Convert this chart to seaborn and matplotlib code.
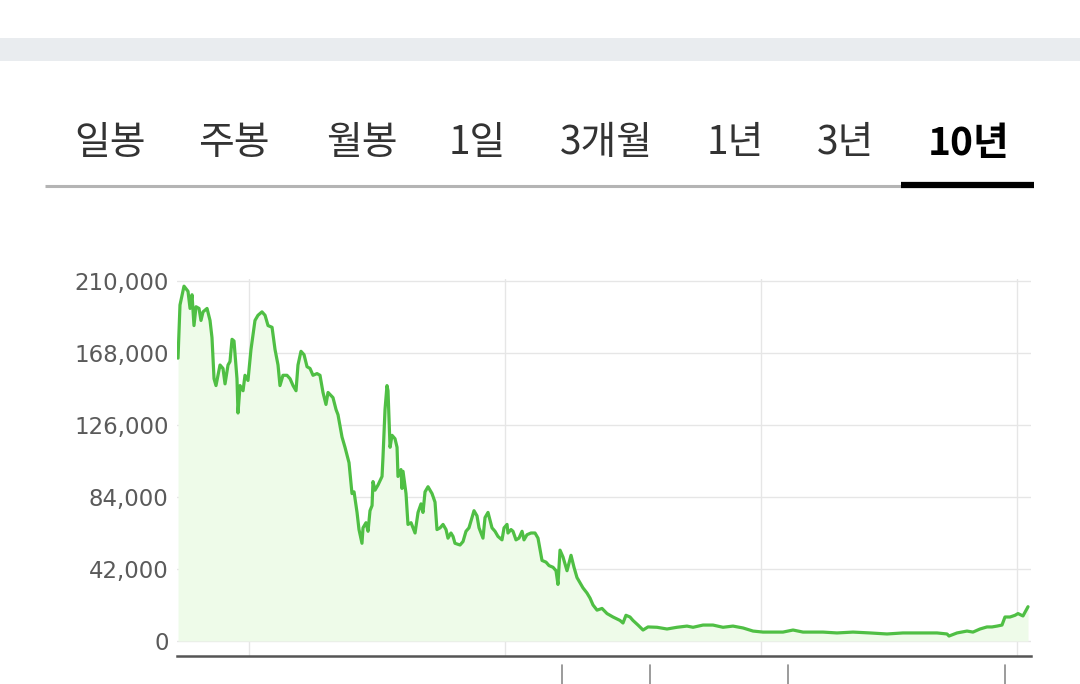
import matplotlib as mpl

mpl.use('Agg')
import matplotlib.pyplot as plt
from matplotlib.lines import Line2D
from matplotlib.patches import Rectangle
import seaborn as sns
import pandas as pd

sns.set_style("whitegrid")
plt.rcParams['font.family'] = ['Noto Sans CJK KR', 'DejaVu Sans']

# period tabs above the chart
tab_labels = ['일봉', '주봉', '월봉', '1일', '3개월', '1년', '3년', '10년']
active_tab = '10년'

# price history (x in decimal years, price in KRW)
years = [
    2015.168, 2015.191, 2015.238, 2015.285, 2015.309, 2015.332, 2015.355, 2015.379, 2015.414, 2015.437,
    2015.461, 2015.508, 2015.543, 2015.566, 2015.590, 2015.613, 2015.660, 2015.695, 2015.719, 2015.754,
    2015.777, 2015.801, 2015.824, 2015.859, 2015.871, 2015.895, 2015.930, 2015.953, 2015.988, 2016.023,
    2016.070, 2016.105, 2016.152, 2016.188, 2016.223, 2016.270, 2016.305, 2016.340, 2016.363, 2016.398,
    2016.445, 2016.481, 2016.516, 2016.551, 2016.574, 2016.609, 2016.645, 2016.680, 2016.715, 2016.750,
    2016.797, 2016.832, 2016.867, 2016.902, 2016.926, 2016.984, 2017.020, 2017.043, 2017.090, 2017.125,
    2017.172, 2017.207, 2017.231, 2017.266, 2017.289, 2017.324, 2017.336, 2017.371, 2017.395, 2017.418,
    2017.442, 2017.453, 2017.477, 2017.512, 2017.559, 2017.570, 2017.594, 2017.617, 2017.629, 2017.653,
    2017.676, 2017.711, 2017.735, 2017.746, 2017.781, 2017.793, 2017.805, 2017.840, 2017.863, 2017.899,
    2017.946, 2017.981, 2018.016, 2018.039, 2018.063, 2018.098, 2018.145, 2018.180, 2018.203, 2018.239,
    2018.274, 2018.309, 2018.332, 2018.367, 2018.391, 2018.414, 2018.473, 2018.508, 2018.543, 2018.578,
    2018.614, 2018.637, 2018.672, 2018.696, 2018.742, 2018.766, 2018.801, 2018.848, 2018.883, 2018.918,
    2018.965, 2018.989, 2019.024, 2019.035, 2019.071, 2019.094, 2019.129, 2019.164, 2019.200, 2019.223,
    2019.258, 2019.305, 2019.352, 2019.387, 2019.434, 2019.481, 2019.516, 2019.563, 2019.598, 2019.621,
    2019.645, 2019.680, 2019.727, 2019.774, 2019.809, 2019.844, 2019.879, 2019.914, 2019.961, 2019.997,
    2020.032, 2020.079, 2020.137, 2020.196, 2020.266, 2020.348, 2020.383, 2020.418, 2020.465, 2020.500,
    2020.559, 2020.618, 2020.676, 2020.782, 2020.899, 2021.016, 2021.133, 2021.204, 2021.321, 2021.438,
    2021.555, 2021.672, 2021.790, 2021.907, 2022.024, 2022.141, 2022.258, 2022.376, 2022.493, 2022.610,
    2022.727, 2022.891, 2023.079, 2023.278, 2023.477, 2023.665, 2023.864, 2024.063, 2024.181, 2024.204,
    2024.298, 2024.415, 2024.485, 2024.567, 2024.649, 2024.708, 2024.767, 2024.825, 2024.860, 2024.919,
    2024.978, 2025.013, 2025.071, 2025.130,
]
prices = [
    165000, 196000, 207000, 204000, 194000, 202000, 184000, 195000, 194000, 187000,
    192000, 194000, 187000, 177000, 153000, 149000, 161000, 159000, 150000, 161000,
    163000, 176000, 175000, 153000, 133000, 149000, 146000, 155000, 152000, 170000,
    187000, 190000, 192000, 190000, 184000, 183000, 170000, 161000, 149000, 155000,
    155000, 153000, 149000, 146000, 161000, 169000, 167000, 160000, 159000, 155000,
    156000, 155000, 145000, 138000, 145000, 142000, 135000, 132000, 119000, 113000,
    104000, 86000, 87000, 75000, 65000, 57000, 66000, 69000, 64000, 76000,
    79000, 93000, 88000, 91000, 96000, 107000, 135000, 149000, 146000, 113000,
    120000, 118000, 113000, 96000, 100000, 89000, 99000, 86000, 68000, 69000,
    63000, 75000, 80000, 75000, 87000, 90000, 86000, 81000, 65000, 66000,
    68000, 65000, 60000, 63000, 61000, 57000, 56000, 58000, 64000, 66000,
    72000, 76000, 73000, 66000, 60000, 72000, 75000, 66000, 64000, 61000,
    59000, 66000, 68000, 63000, 65000, 64000, 59000, 60000, 64000, 59000,
    62000, 63000, 63000, 60000, 47000, 46000, 44000, 43000, 41000, 33000,
    53000, 49000, 41000, 50000, 43000, 37000, 34000, 31000, 28000, 25000,
    21000, 18000, 19000, 16000, 14000, 12000, 10500, 15000, 14000, 12000,
    9300, 6400, 8200, 8000, 7000, 8000, 8700, 8000, 9300, 9300,
    8000, 8700, 7600, 5800, 5200, 5200, 5200, 6400, 5200, 5200,
    5200, 4700, 5200, 4700, 4100, 4700, 4700, 4700, 4100, 2900,
    4700, 5800, 5200, 7000, 8200, 8200, 8700, 9300, 14000, 14000,
    15000, 16000, 14600, 20000,
]

y_ticks = [0, 42000, 84000, 126000, 168000, 210000]
x_grid_years = [2016, 2019, 2022, 2025]
# short marks hanging under the axis
hanging_marks = [2019.668, 2020.700, 2022.317, 2024.860]

df = pd.DataFrame({'year': years, 'price': prices})

fig = plt.figure(figsize=(10.8, 6.84), dpi=100)
fig.patch.set_facecolor('white')

# grey band at the top
fig.add_artist(Rectangle((0, 1 - 61 / 684), 1, 23 / 684, transform=fig.transFigure,
                         facecolor='#e9ecef', edgecolor='none'))

tab_x = [110.5, 233.5, 361.5, 477, 606, 735.5, 845.5, 969]
for label, xc in zip(tab_labels, tab_x):
    is_on = label == active_tab
    fig.text(xc / 1080, 1 - 143 / 684, label, ha='center', va='center', fontsize=28,
             color='black' if is_on else '#333333', fontweight='bold' if is_on else 'normal',
             family=['Noto Sans CJK KR', 'DejaVu Sans'])

fig.add_artist(Line2D([45 / 1080, 901 / 1080], [1 - 186 / 684] * 2, transform=fig.transFigure,
                      color='#b4b4b4', linewidth=2.2, solid_capstyle='butt'))
fig.add_artist(Line2D([901 / 1080, 1034 / 1080], [1 - 185 / 684] * 2, transform=fig.transFigure,
                      color='black', linewidth=4.5, solid_capstyle='butt'))

ax = fig.add_axes([177 / 1080, 28 / 684, 854 / 1080, 376.7 / 684])
ax.set_facecolor('white')

ax.fill_between(df['year'], df['price'], 0, color='#eefbe9', linewidth=0, zorder=1)
sns.lineplot(data=df, x='year', y='price', ax=ax, color='#4fbf44', linewidth=2.3,
             estimator=None, sort=False, zorder=3)

ax.set_xlim(2015.156, 2025.165)
ax.set_ylim(-8750, 211000)
ax.set_xticks(x_grid_years)
ax.set_xticklabels([])
ax.set_yticks(y_ticks)
ax.set_yticklabels([f'{v:,}' for v in y_ticks], family='DejaVu Sans', fontsize=16.5, color='#5a5a5a')
ax.tick_params(axis='both', length=0)
ax.tick_params(axis='y', pad=6)
ax.grid(True, color='#e6e6e6', linewidth=1.0)
ax.set_axisbelow(True)
ax.set_xlabel('')
ax.set_ylabel('')

for side in ['top', 'right', 'left']:
    ax.spines[side].set_visible(False)
ax.spines['bottom'].set_color('#555555')
ax.spines['bottom'].set_linewidth(1.8)

for mx in hanging_marks:
    ax.plot([mx, mx], [-0.024, -0.08], transform=ax.get_xaxis_transform(), color='#8a8a8a',
            linewidth=1.2, clip_on=False)

fig.savefig('out.png', dpi=100, facecolor='white')
